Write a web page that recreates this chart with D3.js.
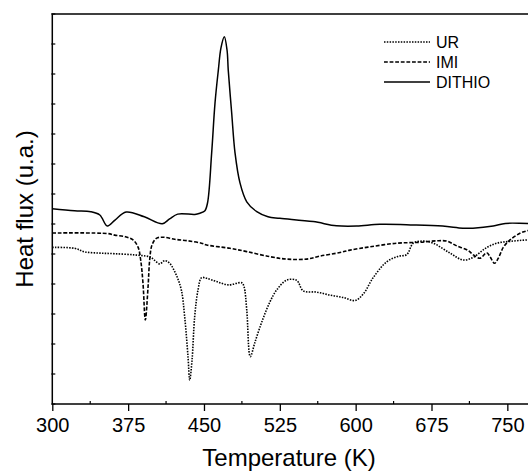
<!DOCTYPE html>
<html>
<head>
<meta charset="utf-8">
<script src="https://cdn.jsdelivr.net/npm/d3@7"></script>
<style>
  body { margin: 0; background: #fff; }
  svg { display: block; font-family: "Liberation Sans", Arial, sans-serif; }
</style>
</head>
<body>
<div id="chart"></div>
<script>
let width = 528;
let height = 476;

// [temperature K, heat flux (u.a.)]
let dithio = [[300,6.51],[322,6.44],[338,6.41],[347,6.30],[354.4,5.93],[362,6.13],[373,6.40],[391,6.24],[408.8,6.01],[416,6.17],[424,6.33],[441,6.32],[446,6.36],[450.7,6.43],[453.5,6.70],[457.6,8.37],[460.9,10.03],[464.2,11.13],[466.8,11.87],[470.1,12.24],[472.8,11.8],[474,11.13],[477.4,9.7],[480.7,8.37],[485.6,7.37],[492.3,6.74],[502.2,6.41],[513.3,6.24],[525,6.19],[558,6.08],[581,5.94],[601,5.93],[624,5.99],[657,5.97],[686,5.93],[706,5.86],[716,5.86],[736,5.93],[748,6.02],[770,6.02],[800,6.02]];
let imi = [[300,5.70],[355,5.68],[361.7,5.63],[371.6,5.58],[379.8,5.47],[384.8,5.23],[387.4,4.8],[389.7,4.02],[392,2.8],[394.7,3.91],[396.3,4.8],[398.6,5.3],[402.9,5.52],[409.5,5.56],[421,5.49],[434,5.44],[447.4,5.36],[452.7,5.30],[475.7,5.19],[492.3,5.08],[515.3,4.91],[531.8,4.83],[551.6,4.83],[564.8,4.93],[584.5,5.05],[594.4,5.13],[614.2,5.24],[640.6,5.36],[663.7,5.39],[680.2,5.44],[690,5.43],[700,5.27],[711.1,5.12],[716.4,4.97],[723,4.86],[729.6,5.04],[732.9,4.91],[737.3,4.69],[741.1,4.86],[746,5.22],[752.6,5.47],[762.5,5.69],[770.4,5.78],[780,5.83],[800,5.88]];
let ur = [[300,5.22],[322,5.19],[332.3,5.07],[347,5.03],[361.7,5.01],[381.5,4.97],[394.7,4.92],[397.9,4.88],[401.6,4.78],[406.2,4.67],[411.2,4.78],[416.1,4.69],[422.6,4.30],[427.6,3.8],[430.9,2.91],[434.2,1.58],[435.9,0.8],[438.2,1.47],[440.8,2.91],[444.1,3.8],[447.6,4.21],[452.7,4.19],[462.6,4.08],[474.1,3.97],[487.3,4.04],[489.6,3.91],[492.3,3.13],[495.8,1.58],[500.5,2.07],[507.9,2.8],[515.3,3.41],[521.9,3.8],[531.8,4.13],[541.7,4.12],[548.2,3.77],[561.5,3.73],[574.6,3.63],[587.8,3.55],[599.4,3.45],[607.6,3.67],[617.5,4.22],[630.7,4.74],[641.9,4.92],[650.5,4.98],[657,5.36],[666.9,5.43],[676.8,5.36],[693.3,5.03],[706.5,4.80],[716.4,4.89],[727.9,5.18],[739.5,5.36],[752.6,5.42],[770.4,5.47],[800,5.49]];

let xTicks = [300, 375, 450, 525, 600, 675, 750];
let xMinor = [337.5, 412.5, 487.5, 562.5, 637.5, 712.5, 787.5];
let yTicks = d3.range(0, 14);

let seriesNames = ["UR", "IMI", "DITHIO"];
let seriesData = [ur, imi, dithio];
let dashes = ["1.5,1.3", "3.8,1.8", null];
let widths = [1.6, 1.6, 1.5];

let x = d3.scaleLinear().domain([300, 800]).range([52.3, 557.9]);
let y = d3.scaleLinear().domain([0, 13]).range([404, 14]);

let svg = d3.select("#chart").append("svg")
    .attr("width", width).attr("height", height);

svg.append("clipPath").attr("id", "clip")
    .append("rect").attr("x", x(300)).attr("y", y(13))
    .attr("width", x(800) - x(300)).attr("height", y(0) - y(13));

let line = d3.line().x(d => x(d[0])).y(d => y(d[1])).curve(d3.curveCatmullRom.alpha(0.5));

let plot = svg.append("g").attr("clip-path", "url(#clip)");
plot.selectAll(".curve").data(seriesData).join("path")
    .attr("class", "curve")
    .attr("d", line)
    .attr("fill", "none")
    .attr("stroke", "#000")
    .attr("stroke-width", (d, i) => widths[i])
    .attr("stroke-dasharray", (d, i) => dashes[i]);

// frame
svg.append("rect").attr("x", x(300)).attr("y", y(13))
    .attr("width", x(800) - x(300)).attr("height", y(0) - y(13))
    .attr("fill", "none").attr("stroke", "#000").attr("stroke-width", 1.5);

// x axis
let xAxis = svg.append("g").attr("transform", `translate(0,${y(0)})`)
    .call(d3.axisBottom(x).tickValues(xTicks).tickSize(7).tickSizeOuter(0));
xAxis.select(".domain").remove();
xAxis.selectAll(".tick line").attr("stroke-width", 1.3);
xAxis.selectAll(".tick text").attr("font-size", 20).attr("fill", "#000")
    .attr("font-family", "Liberation Sans, Arial, sans-serif").attr("dy", null).attr("y", 28);

svg.append("g").selectAll("line").data(xMinor).join("line")
    .attr("x1", d => x(d)).attr("x2", d => x(d))
    .attr("y1", y(0)).attr("y2", y(0) - 3)
    .attr("stroke", "#000").attr("stroke-width", 1.2);

// y axis ticks (no labels)
svg.append("g").selectAll("line").data(yTicks).join("line")
    .attr("x1", x(300) - 1).attr("x2", x(300) + 3)
    .attr("y1", d => y(d)).attr("y2", d => y(d))
    .attr("stroke", "#000").attr("stroke-width", 1.2);

svg.append("text").attr("x", 289).attr("y", 466)
    .attr("text-anchor", "middle").attr("font-size", 24)
    .text("Temperature (K)");

svg.append("text").attr("transform", `translate(33,${(y(0) + y(13)) / 2}) rotate(-90)`)
    .attr("text-anchor", "middle").attr("font-size", 24)
    .text("Heat flux (u.a.)");

// legend
let legend = svg.append("g").attr("transform", "translate(384,42)");
legend.selectAll("line").data(seriesNames).join("line")
    .attr("x1", 0).attr("x2", 46)
    .attr("y1", (d, i) => i * 20).attr("y2", (d, i) => i * 20)
    .attr("stroke", "#000").attr("stroke-width", (d, i) => widths[i])
    .attr("stroke-dasharray", (d, i) => dashes[i]);
legend.selectAll("text").data(seriesNames).join("text")
    .attr("x", 52).attr("y", (d, i) => i * 20 + 5.5)
    .attr("font-size", 16)
    .text(d => d);
</script>
</body>
</html>
